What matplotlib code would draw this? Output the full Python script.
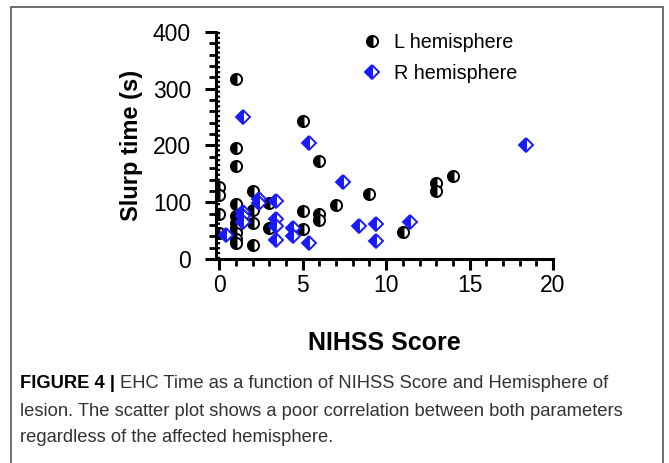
import numpy as np
import matplotlib.pyplot as plt
from matplotlib.lines import Line2D
from matplotlib.patches import Rectangle
from matplotlib.ticker import MultipleLocator

plt.rcParams['font.family'] = ['Liberation Sans', 'DejaVu Sans']

# NIHSS score / slurp time (s), left hemisphere lesions
L_nihss = [0, 0, 0, 0, 1, 1, 1, 1, 1, 1, 1, 1, 1, 1,
           2, 2, 2, 2, 3, 3, 5, 5, 5, 6, 6, 6, 7, 9, 11, 13, 13, 14]
L_time = [127, 113, 80, 46, 318, 195, 164, 97, 76, 64, 54, 45, 36, 29,
          120, 87, 64, 24, 98, 54, 244, 85, 53, 173, 80, 68, 95, 114, 48, 134, 120, 146]

# right hemisphere lesions
R_nihss = [0.4, 1.4, 1.4, 1.4, 1.4, 2.4, 2.4, 3.4, 3.4, 3.4, 3.4,
           4.4, 4.4, 5.4, 5.4, 7.4, 8.4, 9.4, 9.4, 11.4, 18.4]
R_time = [43, 250, 83, 75, 66, 106, 98, 103, 71, 58, 34,
          54, 40, 205, 28, 135, 59, 61, 32, 66, 201]

fig = plt.figure(figsize=(6.69, 4.63), dpi=100)
ax = fig.add_axes([0.3229, 0.4406, 0.5037, 0.4903])

ax.axvline(0, color='black', ls=(0, (1, 1.2)), lw=1.6, zorder=1)
ax.plot(L_nihss, L_time, ls='none', marker='o', ms=8, fillstyle='left',
        color='black', markerfacecoloralt='white', mec='black', mew=1.4, zorder=3)
ax.plot(R_nihss, R_time, ls='none', marker='D', ms=7.5, fillstyle='left',
        color='#1a1aff', markerfacecoloralt='white', mec='#1a1aff', mew=1.4, zorder=3)

ax.set_xlim(-0.2, 20)
ax.set_ylim(0, 400)
ax.xaxis.set_major_locator(MultipleLocator(5))
ax.xaxis.set_minor_locator(MultipleLocator(1))
ax.yaxis.set_major_locator(MultipleLocator(100))
ax.yaxis.set_minor_locator(MultipleLocator(20))
for s in ['top', 'right']:
    ax.spines[s].set_visible(False)
for s in ['left', 'bottom']:
    ax.spines[s].set_linewidth(2.2)
ax.tick_params(which='major', length=8, width=2.2, labelsize=16.5)
ax.tick_params(axis='y', which='major', pad=10)
ax.tick_params(axis='x', which='major', pad=3)
ax.tick_params(which='minor', length=5, width=2.0)

ax.set_ylabel('Slurp time (s)', fontsize=17, fontweight='bold', labelpad=7)
ax.set_xlabel('NIHSS Score', fontsize=18, fontweight='bold', labelpad=24)

handles = [Line2D([], [], ls='none', marker='o', ms=8, fillstyle='left', color='black',
                  markerfacecoloralt='white', mec='black', mew=1.4),
           Line2D([], [], ls='none', marker='D', ms=7.5, fillstyle='left', color='#1a1aff',
                  markerfacecoloralt='white', mec='#1a1aff', mew=1.4)]
ax.legend(handles, ['L hemisphere', 'R hemisphere'], loc='upper left',
          bbox_to_anchor=(0.375, 1.075), frameon=False, fontsize=14.2,
          handletextpad=0.5, labelspacing=0.6, handlelength=1.2)

# figure frame
fig.patches.append(Rectangle((11 / 669, -0.01), (663 - 11) / 669, 1 - 7 / 463 + 0.01,
                             transform=fig.transFigure, fill=False, ec='#555555', lw=1.2))

# caption
cap_size = 13.2
t = fig.text(20 / 669, 1 - 384 / 463, 'FIGURE 4 | ', fontsize=cap_size, fontweight='bold',
             va='center')
fig.canvas.draw()
x_end = fig.transFigure.inverted().transform(
    t.get_window_extent(fig.canvas.get_renderer()))[1, 0]
fig.text(x_end, 1 - 384 / 463, 'EHC Time as a function of NIHSS Score and Hemisphere of',
         fontsize=cap_size, color='#333333', va='center')
fig.text(20 / 669, 1 - 411 / 463,
         'lesion. The scatter plot shows a poor correlation between both parameters',
         fontsize=cap_size, color='#333333', va='center')
fig.text(20 / 669, 1 - 437 / 463, 'regardless of the affected hemisphere.',
         fontsize=cap_size, color='#333333', va='center')

plt.savefig('out.png', dpi=100)
